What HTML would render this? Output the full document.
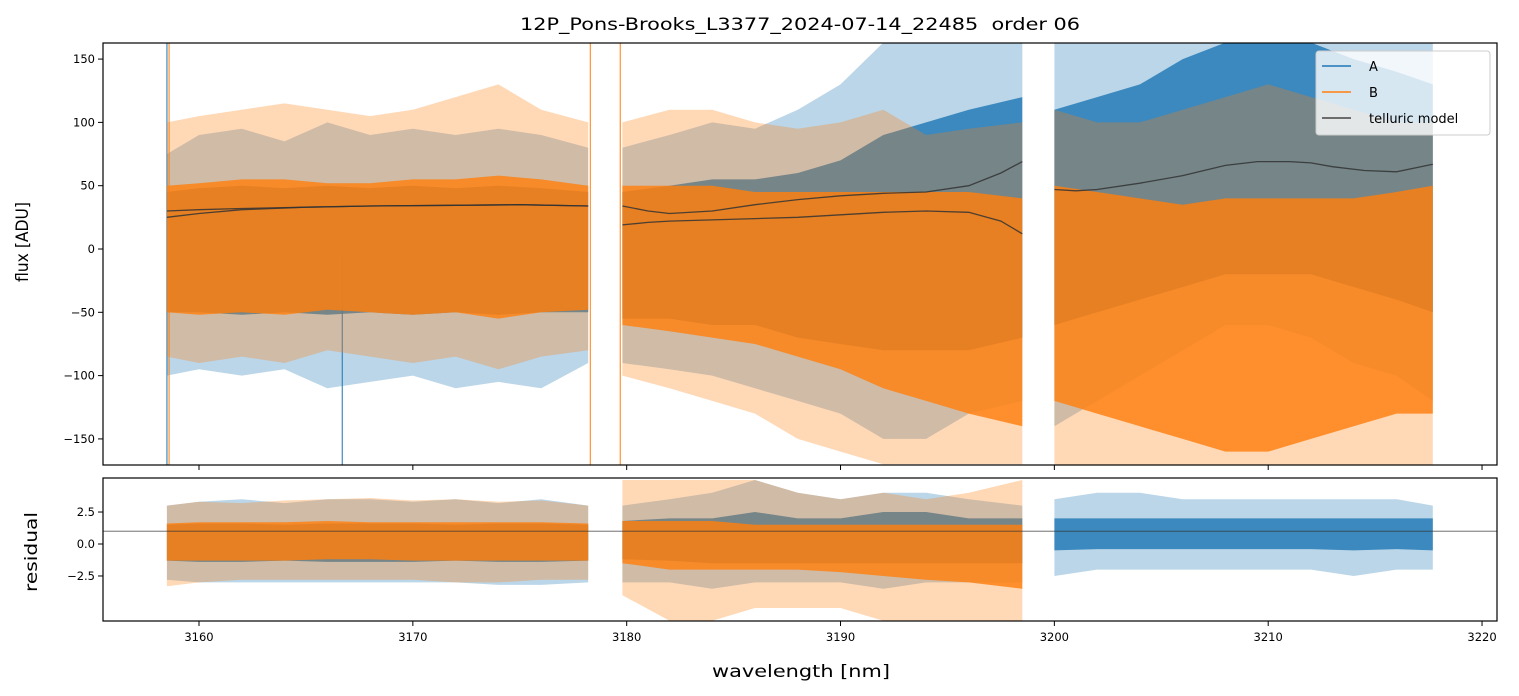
<!DOCTYPE html>
<html><head><meta charset="utf-8"><style>
body{margin:0;background:#fff;position:relative;}
svg{display:block;font-family:"DejaVu Sans","Liberation Sans",sans-serif;}
</style></head><body>
<svg id="chart" width="1519" height="696" viewBox="0 0 1519 696" xmlns="http://www.w3.org/2000/svg">
<rect width="1519" height="696" fill="#fff"/>
<text x="800" y="30" font-size="17" text-anchor="middle" fill="#000" textLength="560" lengthAdjust="spacingAndGlyphs" xml:space="preserve">12P_Pons-Brooks_L3377_2024-07-14_22485  order 06</text>
<defs>
<clipPath id="cTop"><rect x="103" y="43" width="1394" height="422"/></clipPath>
<clipPath id="cBot"><rect x="103" y="478" width="1394" height="143"/></clipPath>
</defs>
<g id="gtop" clip-path="url(#cTop)"></g>
<g id="gbot" clip-path="url(#cBot)"></g>
<g id="gaxes"></g>
</svg>
<script>
// ---- data ----
const seg1Wl=[3158.5,3160,3162,3164,3166,3168,3170,3172,3174,3176,3178.2];
const seg2Wl=[3179.8,3182,3184,3186,3188,3190,3192,3194,3196,3198.5];
const seg3Wl=[3200,3202,3204,3206,3208,3210,3212,3214,3216,3217.7];
// flux A
const fluxA1OutHi=[75,90,95,85,100,90,95,90,95,90,80];
const fluxA1CoreHi=[45,48,50,48,50,48,50,48,50,48,45];
const fluxA1CoreLo=[-50,-50,-52,-50,-52,-50,-52,-50,-52,-50,-50];
const fluxA1OutLo=[-100,-95,-100,-95,-110,-105,-100,-110,-105,-110,-90];
const fluxA2OutHi=[80,90,100,95,110,130,163,163,163,163];
const fluxA2CoreHi=[45,50,55,55,60,70,90,100,110,120];
const fluxA2CoreLo=[-55,-55,-60,-60,-70,-75,-80,-80,-80,-70];
const fluxA2OutLo=[-90,-95,-100,-110,-120,-130,-150,-150,-130,-120];
const fluxA3OutHi=[163,163,163,163,163,163,163,163,163,163];
const fluxA3CoreHi=[110,120,130,150,163,163,163,150,140,130];
const fluxA3CoreLo=[-60,-50,-40,-30,-20,-20,-20,-30,-40,-50];
const fluxA3OutLo=[-140,-120,-100,-80,-60,-60,-70,-90,-100,-120];
// flux B
const fluxB1OutHi=[100,105,110,115,110,105,110,120,130,110,100];
const fluxB1CoreHi=[50,52,55,55,52,52,55,55,58,55,50];
const fluxB1CoreLo=[-50,-52,-50,-52,-48,-50,-52,-50,-55,-50,-48];
const fluxB1OutLo=[-85,-90,-85,-90,-80,-85,-90,-85,-95,-85,-80];
const fluxB2OutHi=[100,110,110,100,95,100,110,90,95,100];
const fluxB2CoreHi=[50,50,50,45,45,45,45,45,45,40];
const fluxB2CoreLo=[-60,-65,-70,-75,-85,-95,-110,-120,-130,-140];
const fluxB2OutLo=[-100,-110,-120,-130,-150,-160,-170,-170,-170,-170];
const fluxB3OutHi=[110,100,100,110,120,130,120,110,100,100];
const fluxB3CoreHi=[50,45,40,35,40,40,40,40,45,50];
const fluxB3CoreLo=[-120,-130,-140,-150,-160,-160,-150,-140,-130,-130];
const fluxB3OutLo=[-171,-171,-171,-171,-171,-171,-171,-171,-171,-171];
// spikes
const spikeAWl=[3158.5,3166.7];
const spikeALo=[-171,-171];
const spikeAHi=[163,0];
const spikeBWl=[3158.6,3178.3,3179.7];
const spikeBLo=[-171,-171,-171];
const spikeBHi=[163,163,163];
// telluric model
const tell1Wl=[3158.5,3160,3162,3165,3168,3172,3175,3178.2];
const tell1Up=[30,31,32,33,34,34.5,35,34];
const tell1Lo=[25,28,31,33,34,34.5,35,34];
const tell2Wl=[3179.8,3181,3182,3184,3186,3188,3190,3192,3194,3196,3197.5,3198.5];
const tell2Up=[34,30,28,30,35,39,42,44,45,50,60,69];
const tell2Lo=[19,21,22,23,24,25,27,29,30,29,22,12];
const tell3Wl=[3200,3201,3202,3204,3206,3207,3208,3209.5,3211,3212,3213,3214.5,3216,3217.7];
const tell3Val=[47,46,47,52,58,62,66,69,69,68,65,62,61,67];
// residuals
const resA1OutHi=[3,3.3,3.5,3.2,3.5,3.5,3.3,3.5,3.2,3.5,3];
const resA1CoreHi=[1.5,1.6,1.6,1.5,1.6,1.6,1.6,1.5,1.6,1.6,1.5];
const resA1CoreLo=[-1.3,-1.4,-1.4,-1.3,-1.4,-1.4,-1.4,-1.3,-1.4,-1.4,-1.3];
const resA1OutLo=[-2.8,-3,-3,-3,-3,-3,-3,-3,-3.2,-3.2,-3];
const resB1OutHi=[3,3.3,3.2,3.4,3.5,3.6,3.4,3.5,3.3,3.4,3];
const resB1CoreHi=[1.6,1.7,1.7,1.7,1.8,1.7,1.7,1.7,1.7,1.7,1.6];
const resB1CoreLo=[-1.3,-1.3,-1.3,-1.3,-1.2,-1.2,-1.3,-1.3,-1.3,-1.3,-1.3];
const resB1OutLo=[-3.3,-3,-2.8,-2.8,-2.8,-2.8,-2.8,-3,-3,-2.8,-2.8];
const resA2OutHi=[3,3.5,4,5,4,3.5,4,4,3.5,3];
const resA2CoreHi=[1.8,2,2,2.5,2,2,2.5,2.5,2,2];
const resA2CoreLo=[-1.2,-1.3,-1.5,-1.5,-1.5,-1.5,-1.5,-1.5,-1.5,-1.5];
const resA2OutLo=[-3,-3,-3.5,-3,-3,-3,-3.5,-3,-3,-3];
const resB2OutHi=[5,5,5,5,4,3.5,4,3.5,4,5];
const resB2CoreHi=[1.8,1.8,1.8,1.5,1.5,1.5,1.5,1.5,1.5,1.5];
const resB2CoreLo=[-1.5,-2,-2,-2,-2,-2.2,-2.5,-2.8,-3,-3.5];
const resB2OutLo=[-4,-6,-6,-5,-5,-5,-6,-6,-6,-6];
const resA3OutHi=[3.5,4,4,3.5,3.5,3.5,3.5,3.5,3.5,3];
const resA3CoreHi=[2,2,2,2,2,2,2,2,2,2];
const resA3CoreLo=[-0.5,-0.4,-0.4,-0.4,-0.4,-0.4,-0.4,-0.5,-0.4,-0.5];
const resA3OutLo=[-2.5,-2,-2,-2,-2,-2,-2,-2.5,-2,-2];
const resRefLine=1.0;
const xTicks=[3160,3170,3180,3190,3200,3210,3220];
const yTicksTop=[150,100,50,0,-50,-100,-150];
const yTicksBot=[2.5,0,-2.5];

// ---- axes ----
const X0=103,X1=1497,XMIN=3155.51,XMAX=3220.70;
const xs=v=>X0+(v-XMIN)/(XMAX-XMIN)*(X1-X0);
const T0=43,T1=465,TMAX=162.7,TMIN=-170.6;
const yT=v=>T0+(TMAX-v)/(TMAX-TMIN)*(T1-T0);
const B0=478,B1=621,BMAX=5.16,BMIN=-6.02;
const yB=v=>B0+(BMAX-v)/(BMAX-BMIN)*(B1-B0);
const NS="http://www.w3.org/2000/svg";
function mk(tag,attrs,parent){const e=document.createElementNS(NS,tag);for(const k in attrs)e.setAttribute(k,attrs[k]);parent.appendChild(e);return e;}
const gTop=document.getElementById('gtop'),gBot=document.getElementById('gbot'),gAxes=document.getElementById('gaxes');
const BLUE='#1f77b4',ORANGE='#ff7f0e';
const OUT_OP=0.3,CORE_OP=0.82;
function band(g,wl,hi,lo,yf,color,op,name){
  let pts=wl.map((w,i)=>xs(w).toFixed(1)+','+yf(hi[i]).toFixed(1));
  for(let i=wl.length-1;i>=0;i--)pts.push(xs(wl[i]).toFixed(1)+','+yf(lo[i]).toFixed(1));
  const p=mk('polygon',{points:pts.join(' '),fill:color,'fill-opacity':op},g);
  
  
}
function line(g,wl,vals,yf,color,w,op,name){
  const p=mk('polyline',{points:wl.map((q,i)=>xs(q).toFixed(1)+','+yf(vals[i]).toFixed(1)).join(' '),fill:'none',stroke:color,'stroke-width':w,'stroke-opacity':op},g);
  
  
}
function spikes(g,wl,lo,hi,yf,color,name){
  wl.forEach((w,i)=>{const l=mk('line',{x1:xs(w),x2:xs(w),y1:yf(lo[i]),y2:yf(hi[i]),stroke:color,'stroke-width':1.2,'stroke-opacity':0.85},g);
  
  });
}
[[seg1Wl,fluxA1OutHi,fluxA1CoreHi,fluxA1CoreLo,fluxA1OutLo],[seg2Wl,fluxA2OutHi,fluxA2CoreHi,fluxA2CoreLo,fluxA2OutLo],[seg3Wl,fluxA3OutHi,fluxA3CoreHi,fluxA3CoreLo,fluxA3OutLo]].forEach(s=>{
  band(gTop,s[0],s[1],s[4],yT,BLUE,OUT_OP,'flux-a-outer');band(gTop,s[0],s[2],s[3],yT,BLUE,CORE_OP,'flux-a-core');});
spikes(gTop,spikeAWl,spikeALo,spikeAHi,yT,BLUE,'flux-a-spike');
[[seg1Wl,fluxB1OutHi,fluxB1CoreHi,fluxB1CoreLo,fluxB1OutLo],[seg2Wl,fluxB2OutHi,fluxB2CoreHi,fluxB2CoreLo,fluxB2OutLo],[seg3Wl,fluxB3OutHi,fluxB3CoreHi,fluxB3CoreLo,fluxB3OutLo]].forEach(s=>{
  band(gTop,s[0],s[1],s[4],yT,ORANGE,OUT_OP,'flux-b-outer');band(gTop,s[0],s[2],s[3],yT,ORANGE,CORE_OP,'flux-b-core');});
spikes(gTop,spikeBWl,spikeBLo,spikeBHi,yT,ORANGE,'flux-b-spike');
line(gTop,tell1Wl,tell1Up,yT,'#333',1.3,0.85,'telluric-model-a-seg1');
line(gTop,tell1Wl,tell1Lo,yT,'#333',1.3,0.85,'telluric-model-b-seg1');
line(gTop,tell2Wl,tell2Up,yT,'#333',1.3,0.85,'telluric-model-a-seg2');
line(gTop,tell2Wl,tell2Lo,yT,'#333',1.3,0.85,'telluric-model-b-seg2');
line(gTop,tell3Wl,tell3Val,yT,'#333',1.3,0.85,'telluric-model-seg3');
[[seg1Wl,resA1OutHi,resA1CoreHi,resA1CoreLo,resA1OutLo],[seg2Wl,resA2OutHi,resA2CoreHi,resA2CoreLo,resA2OutLo],[seg3Wl,resA3OutHi,resA3CoreHi,resA3CoreLo,resA3OutLo]].forEach(s=>{
  band(gBot,s[0],s[1],s[4],yB,BLUE,OUT_OP,'residual-a-outer');band(gBot,s[0],s[2],s[3],yB,BLUE,CORE_OP,'residual-a-core');});
[[seg1Wl,resB1OutHi,resB1CoreHi,resB1CoreLo,resB1OutLo],[seg2Wl,resB2OutHi,resB2CoreHi,resB2CoreLo,resB2OutLo]].forEach(s=>{
  band(gBot,s[0],s[1],s[4],yB,ORANGE,OUT_OP,'residual-b-outer');band(gBot,s[0],s[2],s[3],yB,ORANGE,CORE_OP,'residual-b-core');});
const rl=mk('line',{x1:X0,x2:X1,y1:yB(resRefLine),y2:yB(resRefLine),stroke:'#333','stroke-width':0.8,'stroke-opacity':0.8},gBot);


const f1=mk('rect',{x:X0,y:T0,width:X1-X0,height:T1-T0,fill:'none',stroke:'#000','stroke-width':1.2},gAxes);


const f2=mk('rect',{x:X0,y:B0,width:X1-X0,height:B1-B0,fill:'none',stroke:'#000','stroke-width':1.2},gAxes);


xTicks.forEach(v=>{
  [T1,B1].forEach(yy=>{const t=mk('line',{x1:xs(v),x2:xs(v),y1:yy,y2:yy+5,stroke:'#000','stroke-width':1},gAxes);
  
  });
  const tx=mk('text',{x:xs(v),y:B1+20,'font-size':11.5,'text-anchor':'middle'},gAxes);tx.textContent=v;
  
  
});
const fmt=v=>(v<0?'\u2212':'')+Math.abs(v);
yTicksTop.forEach(v=>{
  const t=mk('line',{x1:X0-5,x2:X0,y1:yT(v),y2:yT(v),stroke:'#000'},gAxes);
  
  
  const tx=mk('text',{x:X0-8,y:yT(v)+4,'font-size':11.5,'text-anchor':'end'},gAxes);tx.textContent=fmt(v);
  
  
});
yTicksBot.forEach(v=>{
  const t=mk('line',{x1:X0-5,x2:X0,y1:yB(v),y2:yB(v),stroke:'#000'},gAxes);
  
  
  const tx=mk('text',{x:X0-8,y:yB(v)+4,'font-size':11.5,'text-anchor':'end'},gAxes);
  tx.textContent=(v<0?'\u2212':'')+Math.abs(v).toFixed(1);
  
  
});
</script>
<svg style="position:absolute;left:0;top:0" width="1519" height="696" font-family="DejaVu Sans, Liberation Sans, sans-serif">
<text x="801" y="677" font-size="17" text-anchor="middle" textLength="178" lengthAdjust="spacingAndGlyphs">wavelength [nm]</text>
<text transform="translate(28,242) rotate(-90)" font-size="17" text-anchor="middle" textLength="80" lengthAdjust="spacingAndGlyphs">flux [ADU]</text>
<text transform="translate(37,552) rotate(-90)" font-size="17" text-anchor="middle" textLength="80" lengthAdjust="spacingAndGlyphs">residual</text>
<g font-size="13">
<rect x="1316" y="51" width="174" height="84" rx="3" fill="#fff" fill-opacity="0.8" stroke="#ccc"/>
<line x1="1322" x2="1351" y1="66" y2="66" stroke="#1f77b4" stroke-width="1.5"/>
<text x="1369" y="71">A</text>
<line x1="1322" x2="1351" y1="92" y2="92" stroke="#ff7f0e" stroke-width="1.5"/>
<text x="1369" y="97">B</text>
<line x1="1322" x2="1351" y1="118" y2="118" stroke="#444" stroke-width="1.5"/>
<text x="1369" y="123">telluric model</text>
</g>
</svg>
</body></html>
